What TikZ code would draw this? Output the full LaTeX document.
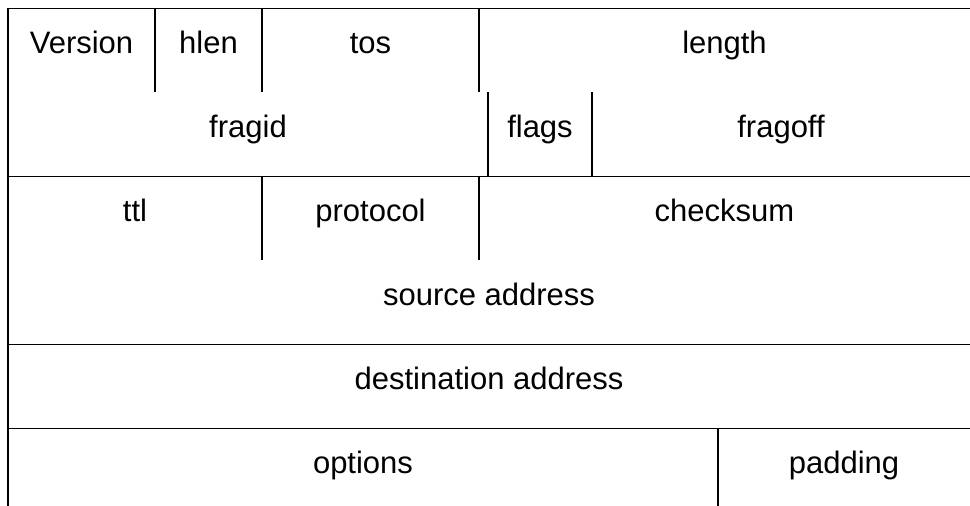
\documentclass[tikz,border=0pt]{standalone}
\usepackage{fontspec}
\setmainfont{Liberation Sans}
\begin{document}
\begin{tikzpicture}[x=1pt,y=-1pt,
  hline/.style={line width=1pt,black},
  vline/.style={line width=1.5pt,black},
  field/.style={inner sep=0pt,font=\fontsize{31}{36}\selectfont,text=black,anchor=base}]
\useasboundingbox (0,0) rectangle (970,506);
% horizontal rules
\foreach \y in {8,176,344,428} \draw[hline] (8,\y) -- (970,\y);
% row 1
\foreach \x in {8,155,262,479} \draw[vline] (\x,8) -- (\x,92);
% row 2
\foreach \x in {8,488,592} \draw[vline] (\x,92) -- (\x,176);
% row 3
\foreach \x in {8,262,479} \draw[vline] (\x,176) -- (\x,260);
% rows 4,5
\draw[vline] (8,260) -- (8,428);
% row 6
\foreach \x in {8,718} \draw[vline] (\x,428) -- (\x,506);
% labels
\node[field] (version) at (81.5,53) {Version};
\node[field] (hlen) at (208.5,53) {hlen};
\node[field] (tos) at (370.5,53) {tos};
\node[field] (length) at (724.5,53) {length};
\node[field] (fragid) at (248,137) {fragid};
\node[field] (flags) at (540,137) {flags};
\node[field] (fragoff) at (781,137) {fragoff};
\node[field] (ttl) at (135,221) {ttl};
\node[field] (protocol) at (370.5,221) {protocol};
\node[field] (checksum) at (724.5,221) {checksum};
\node[field] (src) at (489,305) {source address};
\node[field] (dst) at (489,389) {destination address};
\node[field] (options) at (363,473) {options};
\node[field] (padding) at (844,473) {padding};
\end{tikzpicture}
\end{document}
